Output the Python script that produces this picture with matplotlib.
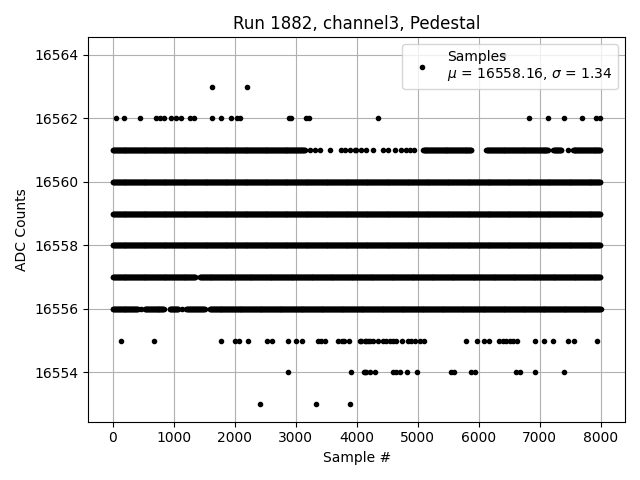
import numpy as np
import matplotlib
matplotlib.use("Agg")
import matplotlib.pyplot as plt

# Sparse levels: sample indices where a point sits at the given ADC value
pts_16564 = [6400]
pts_16563 = [1628, 2202]
pts_16562 = [60, 186, 448, 716, 781, 836, 962, 1033, 1115, 1262, 1333, 1623,
             1776, 1940, 2038, 2093, 2885, 2929, 3175, 3219, 4350, 6825, 7137,
             7393, 7700, 7929, 7984]
pts_16555 = [137, 678, 1776, 2011, 2066, 2219, 2530, 2612, 2874, 3011, 3104,
             3372, 3410, 3475, 3694, 3765, 3787, 3874, 4060, 4077, 4131, 4159,
             4186, 4213, 4268, 4350, 4432, 4486, 4541, 4596, 4650, 4743, 4841,
             4896, 4951, 5033, 5104, 5787, 5973, 6088, 6169, 6333, 6398, 6454,
             6508, 6563, 6628, 6918, 7071, 7219, 7464, 7562, 7940]
pts_16554 = [2874, 3902, 4120, 4131, 4159, 4213, 4295, 4596, 4650, 4705, 4831,
             4989, 5552, 5596, 5880, 5934, 6607, 6683, 6918, 7399]
pts_16553 = [2415, 3333, 3891]
pts_16561_sparse = [3230, 3311, 3393, 3557, 3749, 3814, 3885, 3978, 3995, 4077,
                    4159, 4268, 4432, 4514, 4623, 4732, 4814, 4869, 4940, 7464]

# Dense levels: runs (first sample, last sample) that are solidly filled
runs_16561 = [(0, 3148), (5087, 5880), (6126, 7137), (7219, 7356), (7546, 7999)]
runs_16560 = [(0, 7999)]
runs_16559 = [(0, 7999)]
runs_16558 = [(0, 7999)]
runs_16557 = [(0, 1356), (1426, 7999)]
runs_16556 = [(0, 415), (459, 459), (525, 841), (934, 1071), (1137, 1137),
              (1208, 1508), (1590, 7999)]

sparse = {16564: pts_16564, 16563: pts_16563, 16562: pts_16562,
          16561: pts_16561_sparse, 16555: pts_16555, 16554: pts_16554,
          16553: pts_16553}
dense = {16561: runs_16561, 16560: runs_16560, 16559: runs_16559,
         16558: runs_16558, 16557: runs_16557, 16556: runs_16556}

xs, ys = [], []
for lvl, p in sparse.items():
    xs.extend(p)
    ys.extend([lvl] * len(p))
for lvl, runs in dense.items():
    for a, b in runs:
        s = np.arange(a, b + 1, 8)
        xs.extend(s.tolist())
        ys.extend([lvl] * len(s))

order = np.argsort(xs, kind="stable")
xs = np.asarray(xs)[order]
ys = np.asarray(ys)[order]

fig, ax = plt.subplots(figsize=(6.4, 4.8), dpi=100)
ax.plot(xs, ys, 'k.', linestyle='none',
        label="Samples\n$\\mu$ = 16558.16, $\\sigma$ = 1.34")
ax.set_title("Run 1882, channel3, Pedestal")
ax.set_xlabel("Sample #")
ax.set_ylabel("ADC Counts")
ax.set_xticks(np.arange(0, 8001, 1000))
ax.set_yticks(np.arange(16554, 16565, 2))
ax.ticklabel_format(useOffset=False, style='plain', axis='y')
ax.grid(True)
ax.legend(loc='upper right')
fig.tight_layout()
fig.savefig("out.png")
